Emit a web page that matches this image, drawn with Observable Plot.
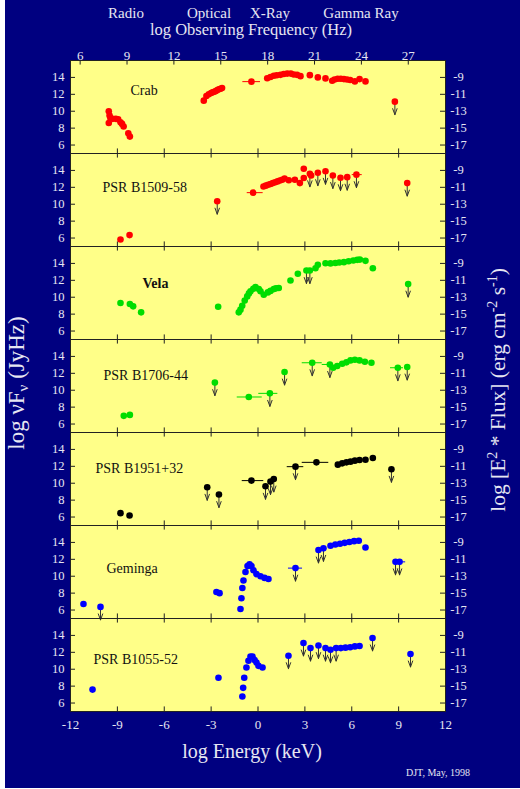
<!DOCTYPE html>
<html><head><meta charset="utf-8">
<script src="https://cdn.jsdelivr.net/npm/d3@7"></script>
<script src="https://cdn.jsdelivr.net/npm/@observablehq/plot@0.6"></script>
<style>
body{margin:0;background:#fff;}
#wrap{position:relative;width:520px;height:789px;overflow:hidden;}
#chart{position:absolute;left:5px;top:0;}
.lab{position:absolute;transform:translate(-50%,-50%);white-space:nowrap;color:#e6e6f2;font-family:"Liberation Serif","Times New Roman",serif;line-height:1;}
.rot{transform:translate(-50%,-50%) rotate(-90deg);}
sup{font-size:65%;vertical-align:0.55em;}
sub{font-size:65%;vertical-align:-0.25em;}
</style></head>
<body>
<div id="wrap">
<div id="chart"></div>
<div class="lab" style="left:126px;top:13px;font-size:15px">Radio</div>
<div class="lab" style="left:209px;top:13px;font-size:15px">Optical</div>
<div class="lab" style="left:270px;top:13px;font-size:15px">X-Ray</div>
<div class="lab" style="left:361px;top:13px;font-size:15px">Gamma Ray</div>
<div class="lab" style="left:251px;top:30px;font-size:16.5px">log Observing Frequency (Hz)</div>
<div class="lab" style="left:252px;top:751px;font-size:20px">log Energy (keV)</div>
<div class="lab" style="left:438px;top:773px;font-size:10px">DJT, May, 1998</div>
<div class="lab rot" style="left:18px;top:383px;font-size:23px">log νF<sub>ν</sub> (JyHz)</div>
<div class="lab rot" style="left:498px;top:390px;font-size:21.5px">log [E<sup>2</sup> * Flux] (erg cm<sup>-2</sup> s<sup>-1</sup>)</div>
</div>
<script>
// ---- categories ----
const pulsars = ["Crab", "PSR B1509-58", "Vela", "PSR B1706-44", "PSR B1951+32", "Geminga", "PSR B1055-52"];
const pulsarColors = ["#ff0000", "#ff0000", "#00dd00", "#00dd00", "#000000", "#0000ff", "#0000ff"];

// ---- tick labels ----
const energyTicks = [-12, -9, -6, -3, 0, 3, 6, 9, 12];      // log E (keV)
const freqTicks = [6, 9, 12, 15, 18, 21, 24, 27];            // log nu (Hz)
const leftTicks = [6, 8, 10, 12, 14];                        // log nuFnu (JyHz)
const rightTicks = [-9, -11, -13, -15, -17];                 // log E^2 Flux (erg cm-2 s-1)
const keVtoHz = 17.383;   // log10(1 keV / h)
const fluxOffset = 23;    // log nuFnu(JyHz) - 23 = log (erg cm-2 s-1)

// ---- series: [logE, log nuFnu] ; ul = upper limits ; bars = [log nuFnu, logE lo, logE hi] ----
const crabPts = [[-9.55,10.0],[-9.5,9.5],[-9.45,9.2],[-9.55,8.6],[-9.3,9.1],[-9.1,9.1],[-8.95,9.05],[-8.8,8.7],[-8.7,8.5],[-8.6,8.2],[-8.3,7.4],[-8.2,7.0],
  [-3.47,11.25],[-3.3,11.8],[-3.15,12.0],[-3.0,12.15],[-2.9,12.25],[-2.8,12.3],[-2.7,12.4],[-2.6,12.5],[-2.5,12.6],[-2.4,12.65],[-2.3,12.75],
  [-0.42,13.5],
  [0.59,13.9],[0.8,14.05],[1.01,14.2],[1.2,14.25],[1.44,14.3],[1.65,14.4],[1.87,14.45],[2.1,14.45],[2.29,14.35],[2.5,14.3],[2.72,14.15],
  [3.32,14.27],[3.83,14.0],[4.32,13.88],[4.75,13.6],[4.9,13.75],[5.1,13.85],[5.3,13.85],[5.5,13.8],[5.7,13.75],[5.9,13.7],[6.2,13.53],[6.5,13.8],[6.88,13.53]];
const crabUL = [[8.76,11.13]];
const crabBars = [[13.5,-0.97,0.16]];

const b1509Pts = [[-8.8,5.83],[-8.22,6.35],[-0.31,11.37],
  [0.35,12.1],[0.5,12.2],[0.65,12.3],[0.8,12.4],[0.95,12.5],[1.1,12.6],[1.25,12.7],[1.4,12.8],[1.55,12.9],[1.7,13.05],
  [1.97,12.83],[2.36,12.9],[2.68,12.5],[2.93,14.2],[2.93,13.1],[3.4,13.4]];
const b1509UL = [[-2.61,10.36],[3.32,13.6],[3.83,13.73],[4.32,13.9],[4.79,13.4],[5.28,13.14],[5.71,13.2],[6.3,13.5],[9.55,12.5]];
const b1509Bars = [[11.37,-0.69,0.33],[13.5,6.03,6.67]];

const velaPts = [[-8.8,9.31],[-8.2,9.2],[-7.99,8.92],[-7.48,8.21],[-2.55,8.88],
  [-1.23,8.21],[-1.12,8.53],[-1.01,9.0],[-0.85,9.6],[-0.69,10.1],[-0.58,10.45],[-0.48,10.7],[-0.3,11.0],[-0.16,11.2],[0.05,10.96],[0.16,10.7],[0.37,10.3],
  [0.63,10.57],[0.8,10.75],[1.01,10.96],[1.15,11.05],[1.33,11.1],[2.08,11.98],[2.55,12.77],
  [3.68,13.43],[3.83,13.83],[4.32,14.02],[4.64,14.0],[4.95,14.05],[5.2,14.1],[5.5,14.15],[5.8,14.25],[6.1,14.35],[6.35,14.42],[6.52,14.45],[6.88,14.3],[7.35,13.43]];
const velaUL = [[3.1,13.16],[3.32,13.16],[9.61,11.55]];
const velaBars = [];

const b1706Pts = [[-8.59,6.97],[-8.2,7.08],[-0.59,9.2],
  [4.81,12.66],[5.07,12.86],[5.39,13.14],[5.66,13.3],[5.92,13.53],[6.2,13.6],[6.5,13.53],[6.84,13.37],[7.26,13.25]];
const b1706UL = [[-2.76,10.9],[0.76,9.63],[1.7,12.15],[3.47,13.25],[4.6,13.05],[8.95,12.66],[9.55,12.74]];
const b1706Bars = [[9.2,-1.33,0.27],[9.63,0.05,1.27],[13.25,2.83,4.11],[13.05,4.11,4.75],[12.66,8.48,9.31]];

const b1951Pts = [[-8.8,6.46],[-8.22,6.19],[-0.42,10.31],[3.74,12.47],
  [5.11,12.2],[5.39,12.35],[5.66,12.47],[5.92,12.55],[6.2,12.67],[6.5,12.75],[6.88,12.78],[7.35,12.98]];
const b1951UL = [[-3.25,9.52],[-2.5,8.66],[0.48,9.64],[0.8,10.19],[1.01,10.5],[2.4,11.96],[8.54,11.65]];
const b1951Bars = [[10.31,-1.01,0.37],[12.47,2.83,4.53],[11.96,1.87,2.93]];

const gemingaPts = [[-11.17,6.72],[-2.66,8.13],[-2.46,8.0],
  [-1.12,6.13],[-1.06,7.4],[-1.0,8.6],[-0.93,9.5],[-0.8,10.5],[-0.67,11.2],[-0.54,11.4],[-0.42,11.2],[-0.29,10.7],[-0.1,10.25],[0.16,10.0],[0.42,9.8],[0.67,9.67],
  [4.64,13.6],[4.95,13.75],[5.25,13.85],[5.55,13.95],[5.85,14.05],[6.15,14.15],[6.45,14.2],[6.88,13.4]];
const gemingaUL = [[-10.08,6.37],[2.4,10.96],[3.87,13.1],[4.19,13.3],[8.8,11.7],[9.06,11.7]];
const gemingaBars = [[10.96,1.95,2.85],[11.7,8.8,9.45]];

const b1055Pts = [[-10.59,7.59],[-2.53,9.0],
  [-1.0,6.77],[-0.95,7.8],[-0.88,9.0],[-0.74,10.2],[-0.61,11.0],[-0.48,11.5],[-0.35,11.5],[-0.22,11.1],[-0.1,10.8],[0.03,10.4],[0.29,10.2],
  [5.3,12.5],[5.6,12.55],[5.9,12.6],[6.2,12.7],[6.5,12.75]];
const b1055UL = [[1.95,11.6],[2.91,13.1],[3.36,12.5],[3.87,12.8],[4.32,12.5],[4.64,12.3],[5.0,12.5],[7.33,13.7],[9.76,11.8]];
const b1055Bars = [];

// ---- table ----
const series = [
  [crabPts, crabUL, crabBars], [b1509Pts, b1509UL, b1509Bars], [velaPts, velaUL, velaBars],
  [b1706Pts, b1706UL, b1706Bars], [b1951Pts, b1951UL, b1951Bars], [gemingaPts, gemingaUL, gemingaBars],
  [b1055Pts, b1055UL, b1055Bars]
].map(([pts, ul, bars], i) => ({name: pulsars[i], pts, ul, bars}));
const dotRows = series.flatMap(s => [...s.pts, ...s.ul].map(([E, v]) => ({name: s.name, E, v})));
const ulRows = series.flatMap(s => s.ul.map(([E, v]) => ({name: s.name, E, v})));
const barRows = series.flatMap(s => s.bars.map(([v, lo, hi]) => ({name: s.name, v, lo, hi})));

// ---- layout ----
const W = 515, H = 788, mL = 65, mR = 75, mT = 58, mB = 76;
const plotW = W - mL - mR;
const panelH = (H - mT - mB) / pulsars.length;
const tickLen = 5;
const txt = "#e6e6f2";
const labelStyle = [
  {dx: 60, dy: 25, w: "normal"}, {dx: 32, dy: 29, w: "normal"}, {dx: 72, dy: 32, w: "bold"},
  {dx: 33, dy: 31, w: "normal"}, {dx: 25, dy: 31, w: "normal"}, {dx: 36, dy: 38, w: "normal"},
  {dx: 23, dy: 36, w: "normal"}
];
const ulShape = {draw(ctx, l) { ctx.moveTo(0, 0); ctx.lineTo(0, -l); ctx.moveTo(-2.2, -l + 6); ctx.lineTo(0, -l); ctx.lineTo(2.2, -l + 6); }};

const topTickRows = energyTicks.flatMap(t => pulsars.slice(1).map(p => ({t, p})));

const chart = Plot.plot({
  width: W, height: H,
  marginLeft: mL, marginRight: mR, marginTop: mT, marginBottom: mB,
  style: {background: "#000080", fontFamily: "'Liberation Serif', 'Times New Roman', serif", overflow: "visible"},
  x: {domain: [-12, 12], axis: null},
  y: {domain: [5, 16], axis: null},
  fy: {domain: pulsars, padding: 0, axis: null},
  color: {domain: pulsars, range: pulsarColors},
  marks: [
    Plot.frame({fill: "#ffff88"}),
    // inward ticks
    Plot.tickX(energyTicks, {x: d => d, insetTop: panelH - tickLen, stroke: "#222"}),
    Plot.tickX(topTickRows, {x: "t", fy: "p", insetBottom: panelH - tickLen, stroke: "#222"}),
    Plot.tickX(freqTicks, {x: d => d - keVtoHz, fy: () => pulsars[0], insetBottom: panelH - tickLen, stroke: "#222"}),
    Plot.tickY(leftTicks, {y: d => d, insetRight: plotW - tickLen, stroke: "#222"}),
    Plot.tickY(rightTicks, {y: d => d + fluxOffset, insetLeft: plotW - tickLen, stroke: "#222"}),
    // tick labels
    Plot.text(leftTicks, {y: d => d, text: d => String(d), frameAnchor: "left", dx: -6, textAnchor: "end", fill: txt, fontSize: 12.5}),
    Plot.text(rightTicks, {y: d => d + fluxOffset, text: d => String(d), frameAnchor: "right", dx: 13, textAnchor: "middle", fill: txt, fontSize: 12.5}),
    Plot.text(energyTicks, {x: d => d, text: d => String(d), fy: () => pulsars[pulsars.length - 1], frameAnchor: "bottom", dy: 17, fill: txt, fontSize: 13}),
    Plot.text(freqTicks, {x: d => d - keVtoHz, text: d => String(d), fy: () => pulsars[0], frameAnchor: "top", dy: -10, fill: txt, fontSize: 13}),
    // panel names
    ...pulsars.map((p, i) => Plot.text([p], {fy: d => d, text: d => d, frameAnchor: "top-left", dx: labelStyle[i].dx, dy: labelStyle[i].dy, textAnchor: "start", fill: "#111", fontSize: 14, fontWeight: labelStyle[i].w})),
    // data
    Plot.ruleY(barRows, {y: "v", x1: "lo", x2: "hi", fy: "name", stroke: "name", strokeWidth: 1}),
    Plot.vector(ulRows, {x: "E", y: "v", fy: "name", length: 13, rotate: 180, anchor: "start", shape: ulShape, stroke: "#333", strokeWidth: 1}),
    Plot.dot(dotRows, {x: "E", y: "v", fy: "name", r: 3.3, fill: "name", stroke: null}),
    Plot.frame({stroke: "#222", strokeWidth: 1})
  ]
});
document.getElementById("chart").appendChild(chart);
</script>
</body></html>
